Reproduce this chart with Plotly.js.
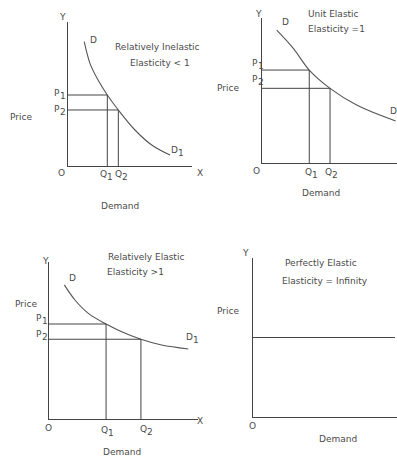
<!DOCTYPE html>
<html><head><meta charset="utf-8">
<script src="https://cdn.plot.ly/plotly-3.0.1.min.js"></script>
<style>html,body{margin:0;padding:0;background:#fff}#c{width:397px;height:458px}</style>
</head><body><div id="c"></div>
<script>
// Panel 1: Relatively inelastic demand (quantity, price)
const inelasticQ = [1.31, 1.77, 2.38, 3.17, 4.06, 5.40, 6.75, 8.23];
const inelasticP = [8.63, 7.13, 6.04, 4.93, 3.89, 2.50, 1.46, 0.76];
const inelasticPts = {Q1: 3.17, P1: 4.93, Q2: 4.06, P2: 3.89};

// Panel 2: Unit elastic demand
const unitQ = [1.09, 2.32, 3.50, 5.04, 7.01, 9.90];
const unitP = [9.17, 7.91, 6.41, 5.15, 4.00, 2.90];
const unitPts = {Q1: 3.50, P1: 6.41, Q2: 5.04, P2: 5.15};

// Panel 3: Relatively elastic demand
const elasticQ = [1.03, 1.74, 2.64, 3.83, 4.88, 6.17, 7.56, 9.35];
const elasticP = [8.54, 7.58, 6.73, 6.05, 5.56, 5.08, 4.71, 4.46];
const elasticPts = {Q1: 3.83, P1: 6.05, Q2: 6.17, P2: 5.08};

// Panel 4: Perfectly elastic demand
const perfectQ = [0, 9.86];
const perfectP = [5.0, 5.0];

const titles = [
  ["Relatively Inelastic", "Elasticity < 1"],
  ["Unit Elastic", "Elasticity =1"],
  ["Relatively Elastic", "Elasticity >1"],
  ["Perfectly Elastic", "Elasticity = Infinity"]
];

const W = 397, H = 458;
const INK = '#444', CURVE = '#555', TXT = '#4a4a4a';
const FONT = 'DejaVu Sans';
const FS = 9;

function curve(q, p, xa, ya) {
  return {x: q, y: p, xaxis: xa, yaxis: ya, mode: 'lines', type: 'scatter',
    line: {color: CURVE, width: 1.1, shape: 'spline', smoothing: 1}, hoverinfo: 'skip', cliponaxis: false};
}
function guide(Q, P, xa, ya) {
  return {x: [0, Q, Q], y: [P, P, 0], xaxis: xa, yaxis: ya, mode: 'lines', type: 'scatter',
    line: {color: INK, width: 1}, hoverinfo: 'skip', cliponaxis: false};
}

const traces = [
  curve(inelasticQ, inelasticP, 'x', 'y'),
  guide(inelasticPts.Q1, inelasticPts.P1, 'x', 'y'),
  guide(inelasticPts.Q2, inelasticPts.P2, 'x', 'y'),
  curve(unitQ, unitP, 'x2', 'y2'),
  guide(unitPts.Q1, unitPts.P1, 'x2', 'y2'),
  guide(unitPts.Q2, unitPts.P2, 'x2', 'y2'),
  curve(elasticQ, elasticP, 'x3', 'y3'),
  guide(elasticPts.Q1, elasticPts.P1, 'x3', 'y3'),
  guide(elasticPts.Q2, elasticPts.P2, 'x3', 'y3'),
  {x: perfectQ, y: perfectP, xaxis: 'x4', yaxis: 'y4', mode: 'lines', type: 'scatter',
   line: {color: INK, width: 1}, hoverinfo: 'skip', cliponaxis: false}
];

function ax(domain) {
  return {domain: domain, range: [0, 10], showline: true, linecolor: INK, linewidth: 1,
    showgrid: false, zeroline: false, showticklabels: false, ticks: '', fixedrange: true};
}

function lab(text, px, py, anchor, size) {
  return {text: text, x: px / W, y: 1 - py / H, xref: 'paper', yref: 'paper',
    xanchor: anchor || 'center', yanchor: 'middle', showarrow: false,
    borderpad: 0, borderwidth: 0,
    font: {family: FONT, size: size || FS, color: TXT}};
}
// letter with an offset subscript digit drawn at nearly full size
function sub(letter, digit, px, py) {
  return [lab(letter, px, py, 'right'), lab(digit, px, py + 3, 'left', 9)];
}

const annotations = [
  // Panel 1
  lab('Y', 62, 17), lab('D', 93, 40),
  lab(titles[0][0], 157, 47), lab(titles[0][1], 160, 63),
  ...sub('P', '1', 60, 93), ...sub('P', '2', 60, 109),
  lab('Price', 21, 117), lab('O', 61, 173),
  ...sub('Q', '1', 107, 174), ...sub('Q', '2', 122, 174),
  lab('X', 200, 173), ...sub('D', '1', 178, 150),
  lab('Demand', 120, 206),
  // Panel 2
  lab('Y', 258, 14), lab('D', 285, 22),
  lab(titles[1][0], 308, 14, 'left'), lab(titles[1][1], 308, 29, 'left'),
  ...sub('P', '1', 258, 63), ...sub('P', '2', 258, 79),
  lab('Price', 228, 88), lab('O', 256, 171),
  ...sub('Q', '1', 312, 172), ...sub('Q', '2', 332, 172),
  lab('D', 397, 111, 'right'),
  lab('Demand', 321, 193),
  // Panel 3
  lab('Y', 45, 261), lab('D', 72, 278),
  lab(titles[2][0], 108, 257, 'left'), lab(titles[2][1], 107, 272, 'left'),
  lab('Price', 26, 304),
  ...sub('P', '1', 42, 318), ...sub('P', '2', 42, 334),
  lab('O', 48, 428),
  ...sub('Q', '1', 108, 430), ...sub('Q', '2', 147, 429),
  ...sub('D', '1', 193, 337), lab('X', 200, 421),
  lab('Demand', 122, 452),
  // Panel 4
  lab('Y', 245, 253),
  lab(titles[3][0], 321, 263), lab(titles[3][1], 325, 281),
  lab('Price', 228, 311), lab('O', 252, 426),
  lab('Demand', 338, 439)
];

const layout = {
  width: W, height: H, margin: {l: 0, r: 0, t: 0, b: 0},
  paper_bgcolor: '#fff', plot_bgcolor: 'rgba(0,0,0,0)', showlegend: false,
  xaxis: Object.assign(ax([68 / W, 192 / W]), {anchor: 'y'}),
  yaxis: Object.assign(ax([1 - 166 / H, 1 - 22 / H]), {anchor: 'x'}),
  xaxis2: Object.assign(ax([262 / W, 1]), {anchor: 'y2'}),
  yaxis2: Object.assign(ax([1 - 163 / H, 1 - 18 / H]), {anchor: 'x2'}),
  xaxis3: Object.assign(ax([49 / W, 198 / W]), {anchor: 'y3'}),
  yaxis3: Object.assign(ax([1 - 419 / H, 1 - 262 / H]), {anchor: 'x3'}),
  xaxis4: Object.assign(ax([253 / W, 1]), {anchor: 'y4'}),
  yaxis4: Object.assign(ax([1 - 417 / H, 1 - 258 / H]), {anchor: 'x4'}),
  annotations: annotations
};

Plotly.newPlot('c', traces, layout, {staticPlot: true, displayModeBar: false});
</script>
</body></html>
